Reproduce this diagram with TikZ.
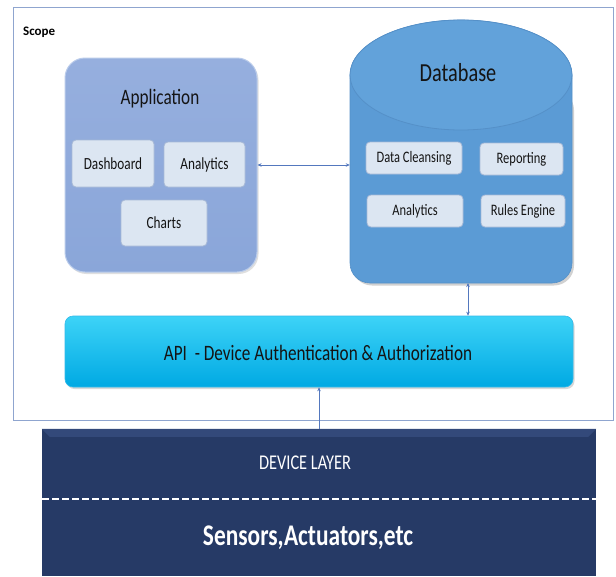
\documentclass[tikz,border=0pt]{standalone}
\usepackage{fontspec}
\setmainfont{Carlito}
\usetikzlibrary{arrows.meta,shadows}
\definecolor{scopeline}{HTML}{8FA5CF}
\definecolor{appfillT}{HTML}{96AFDE}
\definecolor{appfillB}{HTML}{8AA6D9}
\definecolor{appline}{HTML}{B9CBEA}
\definecolor{subfill}{HTML}{DCE6F2}
\definecolor{subline}{HTML}{A7B9D6}
\definecolor{dbfill}{HTML}{5B9BD5}
\definecolor{dbtop}{HTML}{62A2DA}
\definecolor{dbline}{HTML}{5590C8}
\definecolor{apiT}{HTML}{3DD3F7}
\definecolor{apiB}{HTML}{00A9E3}
\definecolor{devfill}{HTML}{263A66}
\definecolor{devtop}{HTML}{33497A}
\definecolor{conn}{HTML}{5478BE}
\newcommand{\sq}[1]{\scalebox{0.78}[1]{#1}}
\tikzset{
  subbox/.style={draw=subline, line width=0.8pt, fill=subfill, rounded corners=4pt, inner sep=0pt},
  conn/.style={draw=conn, line width=0.8pt, {Stealth[length=4pt,width=3.5pt]}-{Stealth[length=4pt,width=3.5pt]}},
  connup/.style={draw=conn, line width=0.8pt, -{Stealth[length=4pt,width=3.5pt]}},
  subtext/.style={font=\fontsize{17}{19}\selectfont, text=black!92},
}
\begin{document}
\begin{tikzpicture}[x=1pt,y=-1pt]
\useasboundingbox (0,0) rectangle (616,576);
\fill[white] (0,0) rectangle (616,576);
% scope
\node[draw=scopeline, line width=0.8pt, minimum width=600pt, minimum height=413pt, inner sep=0pt] (scope) at (313,213.5) {};
\node[anchor=base west, inner sep=0pt, font=\bfseries\fontsize{13}{15}\selectfont] (scopelbl) at (23,35.5) {Scope};
% application
\node[draw=appline, line width=1pt, top color=appfillT, bottom color=appfillB, rounded corners=20pt,
      minimum width=192pt, minimum height=214pt, inner sep=0pt, drop shadow={opacity=0.25, shadow xshift=1.5pt, shadow yshift=-2pt}] (app) at (161,165) {};
\node[font=\fontsize{22}{24}\selectfont, text=black!92] (apptitle) at (160,99) {\sq{Application}};
\node[subbox, minimum width=82pt, minimum height=47pt] (dash) at (113,163.5) {};
\node[subtext] at (dash) {\sq{Dashboard}};
\node[subbox, minimum width=81pt, minimum height=45pt] (ana1) at (204.5,164.5) {};
\node[subtext] at (ana1) {\sq{Analytics}};
\node[subbox, minimum width=86pt, minimum height=46pt] (charts) at (164,223) {};
\node[subtext] at (charts) {\sq{Charts}};
% database cylinder
\node[inner sep=0pt, minimum width=222pt, minimum height=263pt] (db) at (461,151.5) {};
\fill[black, opacity=0.18, rounded corners=20pt] (352,90) -- (352,285.5) -- (574,285.5) -- (574,90) -- cycle;
\path[fill=dbfill, draw=dbline, line width=0.6pt]
  (350,75) [rounded corners=20pt] -- (350,283) -- (572,283) [sharp corners] -- (572,75)
  arc (0:-180:111 and 55) -- cycle;
\path[fill=dbtop, draw=dbline, line width=0.8pt] (461,75) ellipse (111 and 55);
\node[font=\fontsize{26}{28}\selectfont, text=black!92] (dbtitle) at (458,73) {\sq{Database}};
\node[subbox, minimum width=96pt, minimum height=32pt] (dc) at (414,158) {};
\node[subtext, font=\fontsize{16}{18}\selectfont] at (dc) {\sq{Data Cleansing}};
\node[subbox, minimum width=83pt, minimum height=32pt] (rep) at (521.5,159) {};
\node[subtext, font=\fontsize{16}{18}\selectfont] at (rep) {\sq{Reporting}};
\node[subbox, minimum width=96pt, minimum height=32pt] (ana2) at (415,211) {};
\node[subtext, font=\fontsize{16}{18}\selectfont] at (ana2) {\sq{Analytics}};
\node[subbox, minimum width=84pt, minimum height=32pt] (rules) at (523,211) {};
\node[subtext, font=\fontsize{16}{18}\selectfont] at (rules) {\sq{Rules Engine}};
% API
\node[draw=apiB!80!white, line width=0.6pt, top color=apiT, bottom color=apiB, rounded corners=8pt,
      minimum width=508pt, minimum height=71pt, inner sep=0pt, drop shadow={opacity=0.3, shadow xshift=1.5pt, shadow yshift=-2pt}] (api) at (319,351.5) {};
\node[font=\fontsize{22}{24}\selectfont, text=black!92] (apitext) at (318,353) {\sq{API\ \ - Device Authentication \& Authorization}};
% device layer
\node[fill=devfill, minimum width=554pt, minimum height=147pt, inner sep=0pt] (dev) at (319,502.5) {};
\fill[devtop] (dev.north west) -- (dev.north east) -- ([xshift=-8pt,yshift=-8pt]dev.north east) -- ([xshift=8pt,yshift=-8pt]dev.north west) -- cycle;
\node[font=\fontsize{21}{23}\selectfont, text=white] (devtext) at (305,463) {\sq{DEVICE LAYER}};
\coordinate (dashL) at (42,499);
\coordinate (dashR) at (596,499);
\draw[white, line width=2.5pt, dash pattern=on 7pt off 3pt] (dashL) -- (dashR);
\node[font=\bfseries\fontsize{30}{32}\selectfont, text=white] (senstext) at (308,538) {\sq{Sensors,Actuators,etc}};
% connectors
\draw[conn] (app.east) -- (app.east -| db.west);
\coordinate (dbA) at (468,283);
\draw[conn] (dbA) -- (dbA |- api.north);
\draw[connup] (dev.north) -- (api.south);
\end{tikzpicture}
\end{document}
